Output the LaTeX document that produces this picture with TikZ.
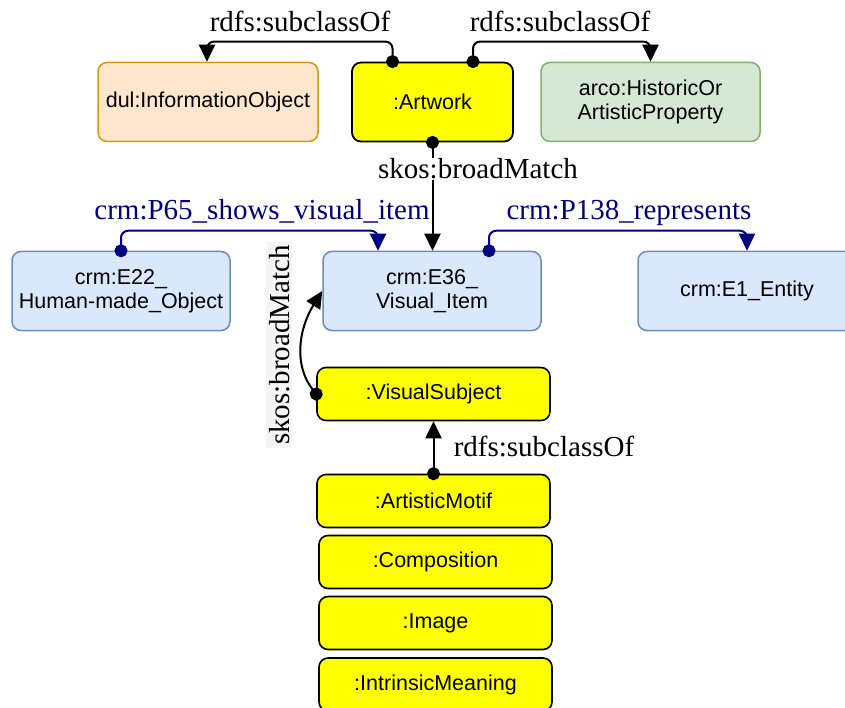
\documentclass[tikz,border=0pt]{standalone}
\usepackage{fontspec}
\setmainfont{Liberation Serif}
\newfontfamily\boxfont{Liberation Sans}
\usetikzlibrary{arrows.meta}
\definecolor{peachfill}{HTML}{FFE6CC}
\definecolor{peachline}{HTML}{D79B00}
\definecolor{greenfill}{HTML}{D5E8D4}
\definecolor{greenline}{HTML}{82B366}
\definecolor{bluefill}{HTML}{DAE8FC}
\definecolor{blueline}{HTML}{6C8EBF}
\definecolor{edgenavy}{HTML}{000080}
\definecolor{yellowfill}{HTML}{FFFF00}
\definecolor{lblgray}{HTML}{F5F5F5}
\tikzset{
  box/.style={draw, rounded corners=9pt, align=center, inner sep=0pt,
    font=\boxfont\fontsize{21.5}{24}\selectfont},
  bigbox/.style={box, minimum width=218pt, minimum height=79pt},
  yellowbox/.style={box, fill=yellowfill, draw=black, line width=1.6pt,
    minimum width=233pt, minimum height=53pt},
  dotstart/.tip={Circle[length=13pt,width=13pt]},
  headend/.tip={Triangle[length=17pt,width=16pt]},
  conn/.style={line width=2pt, rounded corners=7pt,
    arrows={dotstart-headend}, shorten <=-6.5pt},
  lbl/.style={font=\fontsize{29}{32}\selectfont, inner sep=1pt},
}
\begin{document}
\begin{tikzpicture}[x=1pt,y=-1pt]
\clip (0,0) rectangle (845,708);
% nodes
\node[bigbox, fill=peachfill, draw=peachline, line width=1.5pt, minimum width=220pt] (info) at (208,102) {dul:InformationObject};
\node[box, fill=yellowfill, draw=black, line width=1.8pt, minimum width=161pt, minimum height=79pt] (art) at (432.5,102) {:Artwork};
\node[bigbox, fill=greenfill, draw=greenline, line width=1.5pt, minimum width=219pt] (arco) at (650.5,102) {arco:HistoricOr\\ArtisticProperty};
\node[bigbox, fill=bluefill, draw=blueline, line width=1.5pt] (e22) at (121,291) {crm:E22\_\\Human-made\_Object};
\node[bigbox, fill=bluefill, draw=blueline, line width=1.5pt] (e36) at (432,291) {crm:E36\_\\Visual\_Item};
\node[bigbox, fill=bluefill, draw=blueline, line width=1.5pt] (e1) at (747,291) {crm:E1\_Entity};
\node[yellowbox] (vs) at (433.5,394) {:VisualSubject};
\node[yellowbox] (motif) at (433.5,501) {:ArtisticMotif};
\node[yellowbox] (comp) at (435.5,562) {:Composition};
\node[yellowbox] (img) at (435.5,623) {:Image};
\node[yellowbox] (intr) at (435.5,684.5) {:IntrinsicMeaning};
% edges
\draw[conn] ([xshift=-40pt]art.north) -- ++(0,-20) -| ([xshift=-1pt]info.north);
\draw[conn] ([xshift=40.5pt]art.north) -- ++(0,-20) -| (arco.north);
\draw[conn, edgenavy] (e22.north) -- ++(0,-20) -| ([xshift=-54pt]e36.north);
\draw[conn, edgenavy] ([xshift=57pt]e36.north) -- ++(0,-20) -| (e1.north);
\draw[conn] (art.south) -- (art.south |- e36.north);
\draw[conn] (vs.west) .. controls (294,366) and (298,330) .. (e36.west);
\draw[conn] (motif.north) -- (vs.south);
% labels
\node[lbl, anchor=base] (l1) at (300,32) {rdfs:subclassOf};
\node[lbl, anchor=base] (l2) at (560,32) {rdfs:subclassOf};
\node[lbl, anchor=base, fill=white] (l3) at (478,179) {skos:broadMatch};
\node[lbl, anchor=base, text=edgenavy] (l4) at (262,220) {crm:P65\_shows\_visual\_item};
\node[lbl, anchor=base, text=edgenavy] (l5) at (629,220) {crm:P138\_represents};
\node[lbl, anchor=base, rotate=90, fill=lblgray, inner sep=3pt] (l6) at (289,345) {skos:broadMatch};
\node[lbl, anchor=base] (l7) at (544,456) {rdfs:subclassOf};
\end{tikzpicture}
\end{document}
